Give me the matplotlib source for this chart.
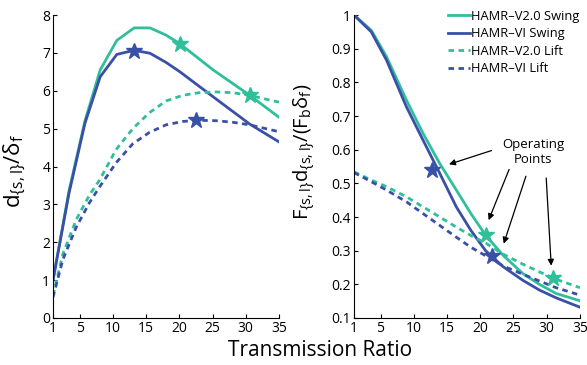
import matplotlib
matplotlib.use('Agg')
import matplotlib.pyplot as plt

plt.rcParams['font.family'] = ['Open Sans', 'DejaVu Sans']
plt.rcParams['mathtext.fontset'] = 'custom'
plt.rcParams['mathtext.rm'] = 'Open Sans'
plt.rcParams['mathtext.default'] = 'regular'

TEAL = '#2fbf9b'
BLUE = '#3a50a6'

# left panel: displacement ratio
x_sw_l = [1, 3.4, 5.8, 8.1, 10.6, 13.2, 15.6, 18.0, 20.1, 25.1, 30.6, 35]
v2_swing_l = [1.0, 3.35, 5.2, 6.55, 7.33, 7.66, 7.66, 7.47, 7.24, 6.55, 5.88, 5.3]
vi_swing_l = [1.0, 3.29, 5.14, 6.37, 6.96, 7.07, 6.99, 6.75, 6.5, 5.84, 5.12, 4.65]

x_lift_l = [1, 2.5, 4.5, 6.5, 8, 10.5, 13, 15.5, 18, 20.5, 23, 25.5, 28, 30.6, 33, 35]
v2_lift_l = [0.6, 1.7, 2.6, 3.25, 3.64, 4.45, 5.0, 5.42, 5.73, 5.88, 5.95, 5.97, 5.95, 5.88, 5.78, 5.7]
vi_lift_l = [0.55, 1.55, 2.4, 3.05, 3.46, 4.1, 4.6, 4.9, 5.1, 5.19, 5.22, 5.21, 5.17, 5.1, 5.0, 4.92]

# right panel: normalised work
x_r = [1, 3.6, 5.9, 8.9, 11.4, 13.9, 16.4, 18.6, 20.8, 23.4, 26.4, 28.9, 31.4, 35]
v2_swing_r = [1.0, 0.955, 0.876, 0.747, 0.648, 0.559, 0.48, 0.41, 0.346, 0.287, 0.232, 0.2, 0.173, 0.151]
vi_swing_r = [1.0, 0.95, 0.866, 0.727, 0.628, 0.53, 0.43, 0.36, 0.3, 0.253, 0.212, 0.183, 0.16, 0.132]
v2_lift_r = [0.534, 0.51, 0.49, 0.46, 0.43, 0.40, 0.37, 0.345, 0.323, 0.29, 0.26, 0.237, 0.215, 0.19]
vi_lift_r = [0.532, 0.505, 0.48, 0.445, 0.41, 0.375, 0.34, 0.31, 0.285, 0.255, 0.23, 0.21, 0.19, 0.168]

# operating points (x, y)
stars_left = [(20.1, 7.24, TEAL), (30.6, 5.88, TEAL), (13.2, 7.05, BLUE), (22.5, 5.22, BLUE)]
stars_right = [(12.8, 0.541, BLUE), (20.8, 0.346, TEAL), (21.8, 0.284, BLUE), (30.9, 0.22, TEAL)]

fig = plt.figure(figsize=(5.87, 3.65), dpi=100)
ax1 = fig.add_axes([0.0903, 0.1288, 0.385, 0.830])
ax2 = fig.add_axes([0.603, 0.1288, 0.385, 0.830])

dash = (0, (2, 1.6))
ax1.plot(x_sw_l, v2_swing_l, color=TEAL, lw=2)
ax1.plot(x_sw_l, vi_swing_l, color=BLUE, lw=2)
ax1.plot(x_lift_l, v2_lift_l, color=TEAL, lw=2, ls=dash)
ax1.plot(x_lift_l, vi_lift_l, color=BLUE, lw=2, ls=dash)
for sx, sy, c in stars_left:
    ax1.plot(sx, sy, marker='*', color=c, ms=12, mec=c)

l1, = ax2.plot(x_r, v2_swing_r, color=TEAL, lw=2, label='HAMR\u2013V2.0 Swing')
l2, = ax2.plot(x_r, vi_swing_r, color=BLUE, lw=2, label='HAMR\u2013VI Swing')
l3, = ax2.plot(x_r, v2_lift_r, color=TEAL, lw=2, ls=dash, label='HAMR\u2013V2.0 Lift')
l4, = ax2.plot(x_r, vi_lift_r, color=BLUE, lw=2, ls=dash, label='HAMR\u2013VI Lift')
for sx, sy, c in stars_right:
    ax2.plot(sx, sy, marker='*', color=c, ms=12, mec=c)

ax1.set_xlim(1, 35)
ax1.set_ylim(0, 8)
ax1.set_xticks([1, 5, 10, 15, 20, 25, 30, 35])
ax1.set_yticks(range(0, 9))
ax1.set_ylabel(r'$d_{\{s,l\}}/\delta_f$', fontsize=16)
ax1.yaxis.set_label_coords(-0.11, 0.485)

ax2.set_xlim(1, 35)
ax2.set_ylim(0.1, 1)
ax2.set_xticks([1, 5, 10, 15, 20, 25, 30, 35])
ax2.set_yticks([0.1, 0.2, 0.3, 0.4, 0.5, 0.6, 0.7, 0.8, 0.9, 1])
ax2.set_yticklabels(['0.1', '0.2', '0.3', '0.4', '0.5', '0.6', '0.7', '0.8', '0.9', '1'])
ax2.set_ylabel(r'$F_{\{s,l\}}d_{\{s,l\}}/(F_b\delta_f)$', fontsize=14.5)
ax2.yaxis.set_label_coords(-0.165, 0.548)

for ax in (ax1, ax2):
    ax.spines['top'].set_visible(False)
    ax.spines['right'].set_visible(False)
    ax.tick_params(direction='in', length=3, labelsize=10, pad=2)

fig.text(0.545, 0.04, 'Transmission Ratio', ha='center', va='center', fontsize=15)

ax2.annotate('Operating\nPoints', xy=(28.0, 0.594), ha='center', va='center', fontsize=9.5)
arrows = [((22.1, 0.60), (14.9, 0.554)), ((24.5, 0.549), (21.1, 0.383)),
          ((27.0, 0.529), (23.4, 0.313)), ((29.9, 0.524), (30.7, 0.247))]
for tail, head in arrows:
    ax2.annotate('', xy=head, xytext=tail,
                 arrowprops=dict(arrowstyle='-|>', color='black', lw=0.9, mutation_scale=9))

fig.legend(handles=[l1, l2, l3, l4], loc='upper right', bbox_to_anchor=(1.0, 0.995),
           frameon=False, fontsize=9.3, handlelength=1.7, handletextpad=0.05,
           labelspacing=0.35, borderaxespad=0.2)

fig.savefig('out.png', dpi=100)
